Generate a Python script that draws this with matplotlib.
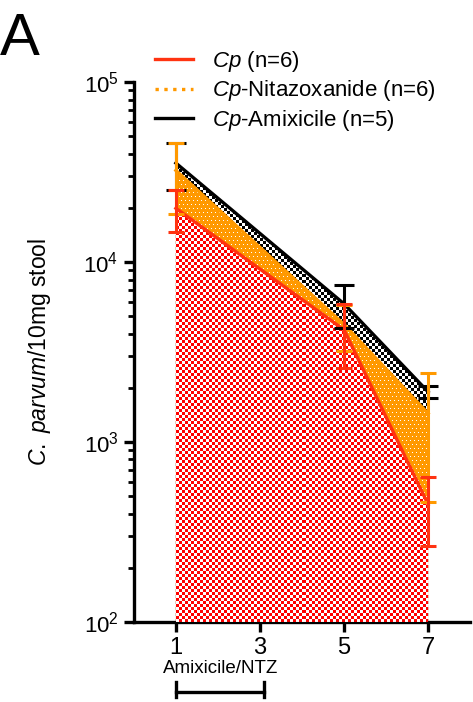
import matplotlib.pyplot as plt
import matplotlib.image as mimage
import numpy as np
from matplotlib.colors import to_rgb
from matplotlib.patches import PathPatch
from matplotlib.ticker import LogLocator, NullFormatter

plt.rcParams['font.family'] = ['Liberation Sans', 'DejaVu Sans']
plt.rcParams['mathtext.fontset'] = 'custom'
plt.rcParams['mathtext.it'] = 'Liberation Sans:italic'
plt.rcParams['mathtext.rm'] = 'Liberation Sans'

days = [1, 5, 7]

cp_mean = [19900, 4200, 450]
cp_sem = [5200, 1630, 187]

ntz_mean = [32300, 4500, 1440]
ntz_sem = [13700, 1280, 975]

amx_mean = [35500, 5860, 1900]
amx_sem = [10500, 1560, 145]

RED_LINE = '#ff3311'
RED_FILL = '#ff0000'
ORANGE = '#ff9900'
BLACK = '#000000'

FIG_W, FIG_H = 473, 702
AX_RECT = [0.283, 0.114, 0.711, 0.769]

fig = plt.figure(figsize=(FIG_W / 100, FIG_H / 100), dpi=100)
ax = fig.add_axes(AX_RECT)

# pixel textures used to imitate the patterned fills of the original
H = round(AX_RECT[3] * FIG_H)
W = round(AX_RECT[2] * FIG_W)
yy, xx = np.mgrid[0:H, 0:W]
checker = ((yy // 3 + xx // 3) % 2) == 0
dots = ((yy % 4) == 1) & (((xx + 2 * ((yy // 4) % 2)) % 4) == 1)


def texture(color, mask):
    tex = np.ones((H, W, 3))
    tex[~mask] = to_rgb(color)
    return tex


def patterned_fill(values, tex, z):
    poly = ax.fill_between(days, values, 100, facecolor='none', edgecolor='none')
    path = poly.get_paths()[0]
    poly.remove()
    clip = PathPatch(path, transform=ax.transData, facecolor='none', edgecolor='none')
    ax.add_patch(clip)
    im = mimage.AxesImage(ax, interpolation='nearest', origin='lower',
                          extent=(0, 1, 0, 1), transform=ax.transAxes)
    im.set_data(tex)
    im.set_zorder(z)
    ax.add_image(im)
    im.set_clip_path(clip)


ax.set_yscale('log')
ax.set_ylim(100, 1e5)
ax.set_xlim(0, 8)
ax.autoscale(False)

patterned_fill(amx_mean, texture(BLACK, checker), 1)
patterned_fill(ntz_mean, texture(ORANGE, dots), 2)
patterned_fill(cp_mean, texture(RED_FILL, checker), 3)

ax.plot(days, amx_mean, color=BLACK, lw=2.4, zorder=4)
ax.plot(days, ntz_mean, color=ORANGE, lw=2.4, zorder=5)
ax.plot(days, cp_mean, color=RED_LINE, lw=2.4, zorder=6)

ax.errorbar(days, amx_mean, yerr=amx_sem, fmt='none', ecolor=BLACK, elinewidth=2.2,
            capsize=7, capthick=2.2, zorder=7)
ax.errorbar(days, ntz_mean, yerr=ntz_sem, fmt='none', ecolor=ORANGE, elinewidth=2.2,
            capsize=6, capthick=2.2, zorder=8)
ax.errorbar(days, cp_mean, yerr=cp_sem, fmt='none', ecolor=RED_LINE, elinewidth=2.2,
            capsize=6, capthick=2.2, zorder=9)

ax.set_xticks([1, 3, 5, 7])
ax.set_xticklabels(['1', '3', '5', '7'])
ax.set_yticks([1e2, 1e3, 1e4, 1e5])
ax.set_yticklabels([r'$\mathregular{10^2}$', r'$\mathregular{10^3}$',
                    r'$\mathregular{10^4}$', r'$\mathregular{10^5}$'])
ax.yaxis.set_minor_locator(LogLocator(base=10, subs=np.arange(2, 10)))
ax.yaxis.set_minor_formatter(NullFormatter())

for side in ['top', 'right']:
    ax.spines[side].set_visible(False)
for side in ['left', 'bottom']:
    ax.spines[side].set_linewidth(2.4)
ax.tick_params(axis='both', which='major', direction='out', length=7, width=2.4, labelsize=16, pad=4)
ax.tick_params(axis='x', which='major', labelsize=17)
ax.tick_params(axis='y', which='minor', direction='out', length=4, width=2)

ax.set_ylabel(r'$\it{C.}$ $\it{parvum}$/10mg stool', fontsize=16.5, labelpad=22)

legend_handles = [
    plt.Line2D([], [], color=RED_LINE, lw=2.4),
    plt.Line2D([], [], color=ORANGE, lw=2.4, ls=':'),
    plt.Line2D([], [], color=BLACK, lw=2.4),
]
legend_labels = [r'$\it{Cp}$ (n=6)', r'$\it{Cp}$-Nitazoxanide (n=6)', r'$\it{Cp}$-Amixicile (n=5)']
ax.legend(legend_handles, legend_labels, loc='upper left', bbox_to_anchor=(0.035, 1.078),
          frameon=False, fontsize=16, handlelength=1.75, labelspacing=0.2, handletextpad=0.85,
          borderaxespad=0)

# treatment bracket under the x axis
xt = ax.get_xaxis_transform()
ax.text(2.07, -0.087, 'Amixicile/NTZ', transform=xt, ha='center', va='center',
        fontsize=13.5, clip_on=False)
ax.plot([1, 3.1], [-0.129, -0.129], transform=xt, color='black', lw=2.4, clip_on=False)
for xe in [1, 3.1]:
    ax.plot([xe, xe], [-0.111, -0.139], transform=xt, color='black', lw=2.4, clip_on=False)

fig.text(0.0, 1 - 55 / FIG_H, 'A', fontsize=43, ha='left', va='baseline')

fig.savefig('out.png', dpi=100)
